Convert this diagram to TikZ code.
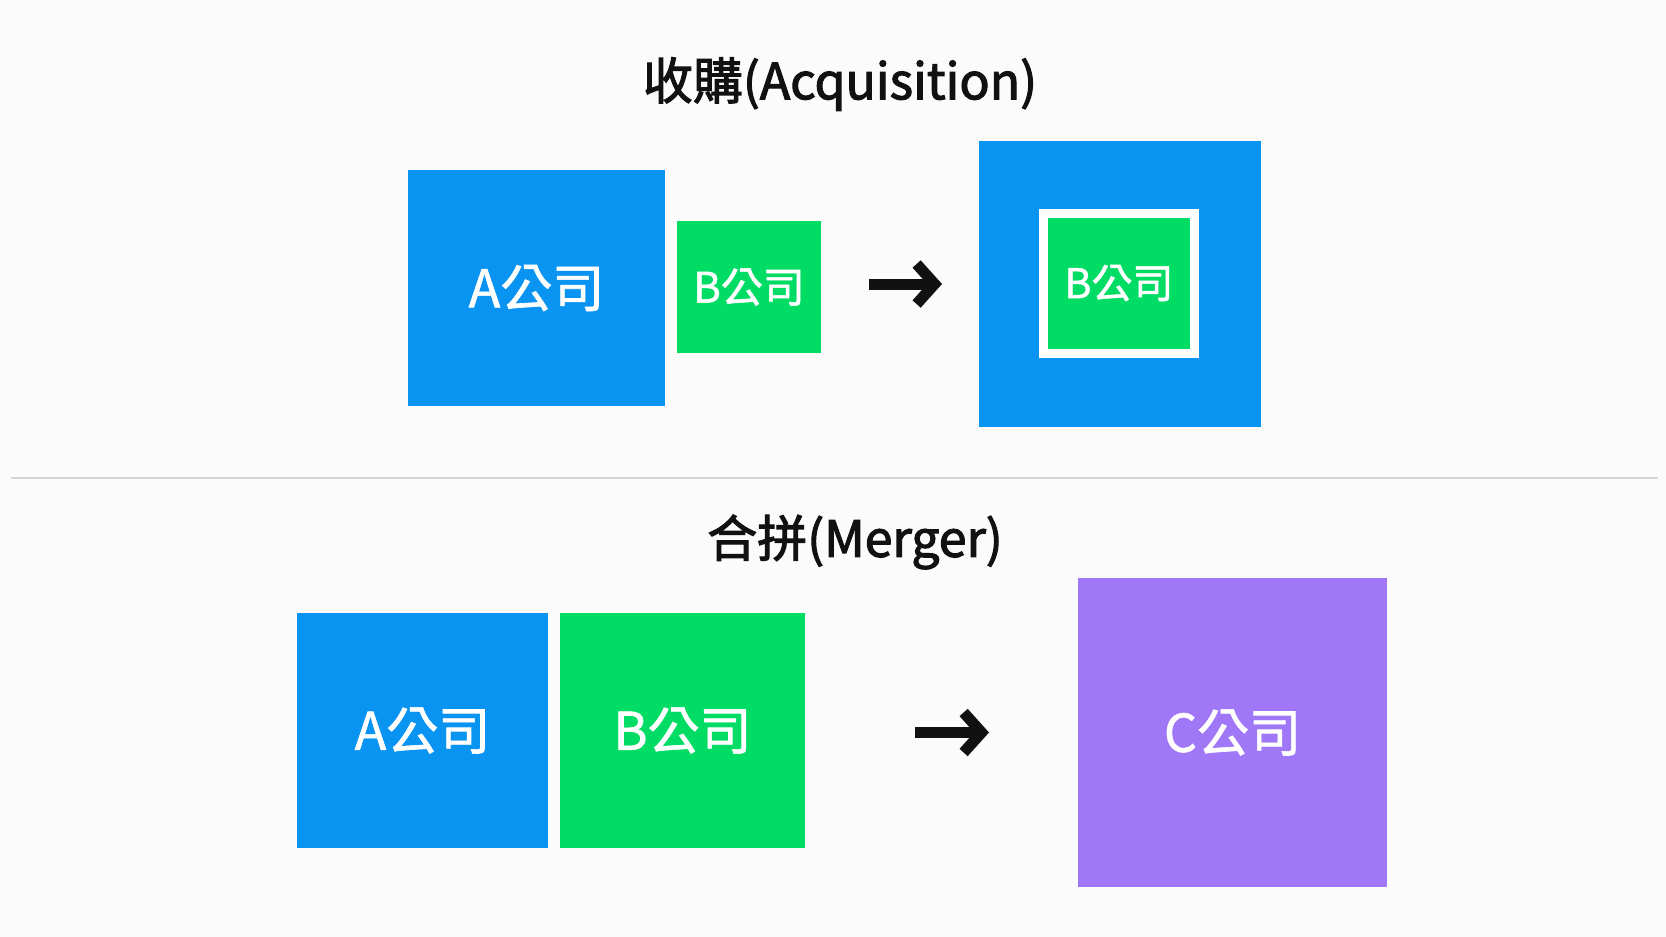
\documentclass[tikz,border=0pt]{standalone}
\usepackage{fontspec}
\setmainfont{Noto Sans CJK TC}
\newfontfamily\headfont[FakeBold=2.2]{Noto Sans CJK TC}
\newfontfamily\boxfont[FakeBold=1.2]{Noto Sans CJK TC}
\usepackage{tikz}
\usetikzlibrary{arrows.meta,positioning}
\definecolor{dealBlue}{RGB}{10, 148, 242}
\definecolor{dealGreen}{RGB}{0, 220, 100}
\definecolor{dealPurple}{RGB}{160, 120, 247}
\definecolor{dealBack}{RGB}{251, 251, 252}
\definecolor{dealRule}{RGB}{214, 214, 216}
\definecolor{dealInk}{RGB}{17, 17, 17}

\begin{document}
\begin{tikzpicture}[
  x=0.5pt, y=-0.5pt,
  heading/.style={
    text=dealInk,
    font=\headfont\fontsize{25pt}{30pt}\selectfont
  },
  company/.style={
    inner sep=0pt,
    outer sep=0pt,
    text=white,
    font=\boxfont\fontsize{26pt}{30pt}\selectfont
  },
  arrow/.style={-{Straight Barb[length=9pt,width=20pt]},line width=5.5pt,dealInk}
]
  \useasboundingbox[fill=dealBack] (0,0) rectangle (1666,937);

  % acquisition
  \node[heading] (acqTitle) at (840,84) {收購(Acquisition)};
  \node[company,fill=dealBlue,minimum width=128.5pt,minimum height=118pt]
    (acqA) at (536.5,288) {A公司};
  \node[company,fill=dealGreen,minimum width=72pt,minimum height=66pt,
    font=\boxfont\fontsize{21pt}{25pt}\selectfont] (acqB) at (749,287) {B公司};
  \node[company,fill=dealBlue,minimum width=141pt,minimum height=143pt]
    (acqAB) at (1120,284) {};
  \node[company,fill=dealGreen,draw=white,line width=4.5pt,
    minimum width=75.5pt,minimum height=70pt,
    font=\boxfont\fontsize{20.5pt}{24pt}\selectfont] (acqBin) at (1119,283) {B公司};
  \draw[arrow,shorten <=24pt,shorten >=18.5pt] (acqB.east |- acqAB) -- (acqAB.west);

  \draw[dealRule,line width=1pt] (11,478) -- (1658,478);

  % merger
  \node[heading] (mrgTitle) at (855,542) {合拼(Merger)};
  \node[company,fill=dealBlue,minimum width=125.5pt,minimum height=117.5pt]
    (mrgA) at (422.5,730.5) {A公司};
  \node[company,fill=dealGreen,minimum width=122.5pt,minimum height=117.5pt,
    right=6pt of mrgA] (mrgB) {B公司};
  \node[company,fill=dealPurple,minimum width=154.5pt,minimum height=154.5pt]
    (mrgC) at (1232.5,732.5) {C公司};
  \draw[arrow,shorten <=55pt,shorten >=44.5pt] (mrgB.east |- mrgC) -- (mrgC.west);
\end{tikzpicture}
\end{document}
